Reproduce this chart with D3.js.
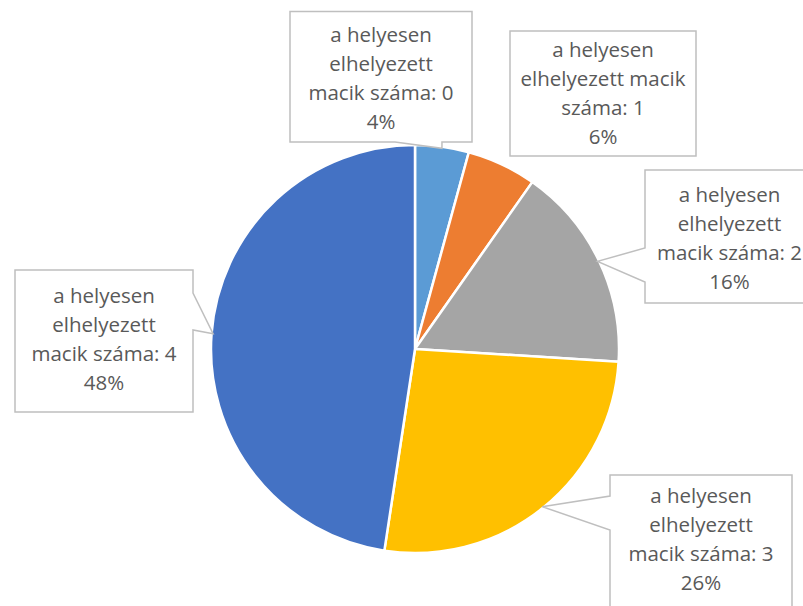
<!DOCTYPE html>
<html><head><meta charset="utf-8">
<script src="https://cdn.jsdelivr.net/npm/d3@7"></script>
<style>html,body{margin:0;padding:0;background:#fff;overflow:hidden}</style>
</head><body>
<svg id="c" width="803" height="606"></svg>
<script>
const categories = ["a helyesen elhelyezett macik száma: 0","a helyesen elhelyezett macik száma: 1","a helyesen elhelyezett macik száma: 2","a helyesen elhelyezett macik száma: 3","a helyesen elhelyezett macik száma: 4"];
const values = [4.25, 5.5, 16.25, 26.4, 47.6];
const percentLabels = ["4%","6%","16%","26%","48%"];
const labelLines = [
  ["a helyesen","elhelyezett","macik száma: 0","4%"],
  ["a helyesen","elhelyezett macik","száma: 1","6%"],
  ["a helyesen","elhelyezett","macik száma: 2","16%"],
  ["a helyesen","elhelyezett","macik száma: 3","26%"],
  ["a helyesen","elhelyezett","macik száma: 4","48%"]
];
const colors = ["#5B9BD5","#ED7D31","#A5A5A5","#FFC000","#4472C4"];

// layout
const cx = 415, cy = 349, R = 204;
const boxes = [
  {x:290,y:11.5,w:182,h:130.5, side:"bottom", b1:395, first:42},
  {x:510,y:31,w:186,h:125, side:null, first:57},
  {x:645,y:170,w:169,h:133, side:"left", b1:248, b2:282, first:202},
  {x:610,y:475,w:182,h:140, side:"left", b1:496, b2:530, first:503},
  {x:15,y:270,w:178,h:142, side:"right", b1:293, b2:330, first:303}
];

const svg = d3.select("#c");
const g = svg.append("g").attr("transform",`translate(${cx},${cy})`);
const pie = d3.pie().sort(null).value(d=>d);
const arcs = pie(values);
const arc = d3.arc().innerRadius(0).outerRadius(R);
g.selectAll("path.s").data(arcs).join("path").attr("class","s")
  .attr("d",arc).attr("fill",(d,i)=>colors[i])
  .attr("stroke","#fff").attr("stroke-width",2.5).attr("stroke-linejoin","round");

const lg = svg.append("g");
arcs.forEach((a,i)=>{
  const b = boxes[i];
  const mid = (a.startAngle+a.endAngle)/2;
  const tr = R - 1.5;
  const tx = cx + tr*Math.sin(mid), ty = cy - tr*Math.cos(mid);
  const x0=b.x, y0=b.y, x1=b.x+b.w, y1=b.y+b.h;
  let p;
  if(b.side==="bottom"){
    p = `M${x0},${y0}H${x1}V${y1}H${tx}V${ty}L${b.b1},${y1}H${x0}Z`;
  } else if(b.side==="left"){
    p = `M${x0},${y0}H${x1}V${y1}H${x0}V${b.b2}L${tx},${ty}L${x0},${b.b1}Z`;
  } else if(b.side==="right"){
    p = `M${x0},${y0}H${x1}V${b.b1}L${tx},${ty}L${x1},${b.b2}V${y1}H${x0}Z`;
  } else {
    p = `M${x0},${y0}H${x1}V${y1}H${x0}Z`;
  }
  lg.append("path").attr("d",p).attr("fill","#fff").attr("stroke","#BFBFBF").attr("stroke-width",1.5);
  const t = lg.append("text").attr("text-anchor","middle")
    .attr("font-family","'Open Sans', sans-serif").attr("font-size",20.5).attr("fill","#595959");
  const lines = labelLines[i];
  const lh = 29;
  lines.forEach((ln,k)=>{
    t.append("tspan").attr("x",(x0+x1)/2).attr("y",b.first+k*lh).text(ln);
  });
});
</script>
</body></html>
